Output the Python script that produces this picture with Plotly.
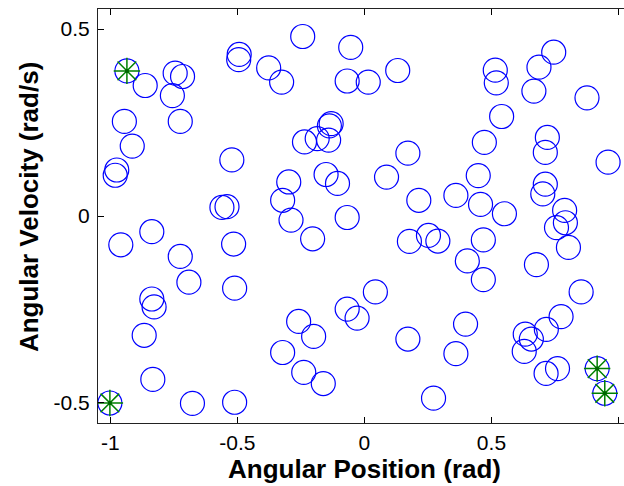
import plotly.graph_objects as go

# Blue circle states (angular position, angular velocity)
pos = [-0.935, -0.863, -0.745, -0.716, -0.756, -0.725, -0.945, -0.914, -0.975, -0.981,
       -0.493, -0.495, -0.377, -0.326, -0.522, -0.561, -0.541, -0.322, -0.298, -0.243,
       -0.054, -0.068, 0.015, 0.131, -0.131, -0.138, -0.236, -0.186, -0.141, 0.171,
       -0.151, -0.106, 0.087, 0.214, -0.289, -0.068, 0.360, 0.745, 0.687, 0.515,
       0.519, 0.667, 0.876, 0.540, 0.472, 0.720, 0.712, 0.959, 0.448, 0.712,
       0.702, 0.457, 0.551, 0.788, 0.791, 0.756, 0.289, 0.468, 0.405, 0.468,
       0.677, 0.803, 0.853, 0.774, 0.398, 0.716, 0.633, 0.657, 0.629, 0.360,
       0.760, 0.715, 0.916, 0.946, 0.272, -0.837, -0.959, -0.725, -0.515, -0.691,
       -0.511, -0.837, -0.828, -0.867, -0.833, -1.002, -0.677, -0.511, -0.322, -0.204,
       0.177, 0.252, 0.043, -0.068, -0.029, -0.259, -0.200, -0.239, -0.162, 0.171]
vel = [0.388, 0.349, 0.382, 0.373, 0.322, 0.253, 0.253, 0.187, 0.123, 0.109,
       0.432, 0.418, 0.396, 0.358, 0.150, 0.023, 0.025, 0.042, 0.091, 0.480,
       0.451, 0.361, 0.358, 0.389, 0.247, 0.241, 0.198, 0.207, 0.203, 0.168,
       0.111, 0.087, 0.104, 0.042, -0.011, -0.004, 0.055, 0.438, 0.398, 0.390,
       0.356, 0.334, 0.316, 0.266, 0.197, 0.210, 0.170, 0.144, 0.108, 0.085,
       0.059, 0.031, 0.006, 0.015, -0.018, -0.031, -0.067, -0.064, -0.120, -0.170,
       -0.130, -0.084, -0.203, -0.269, -0.289, -0.303, -0.316, -0.329, -0.362, -0.368,
       -0.408, -0.421, -0.408, -0.474, -0.487, -0.042, -0.077, -0.108, -0.075, -0.177,
       -0.193, -0.222, -0.243, -0.319, -0.437, -0.500, -0.501, -0.498, -0.365, -0.061,
       -0.068, -0.052, -0.203, -0.249, -0.273, -0.282, -0.322, -0.418, -0.448, -0.329]

# Highlighted (green asterisk) states
hl_pos = [-0.935, 0.916, 0.946, -1.002]
hl_vel = [0.388, -0.408, -0.474, -0.500]

x_ticks = [-1, -0.5, 0, 0.5, 1]
x_labels = ["-1", "-0.5", "0", "0.5", "1"]
y_ticks = [-0.5, 0, 0.5]
y_labels = ["-0.5", "0", "0.5"]
x_title = "Angular Position (rad)"
y_title = "Angular Velocity (rad/s)"

fig = go.Figure()
fig.add_trace(go.Scatter(
    x=pos, y=vel, mode="markers",
    marker=dict(symbol="circle-open", size=24, color="#0000FF", line=dict(width=1.2, color="#0000FF")),
    showlegend=False, hoverinfo="skip"))
fig.add_trace(go.Scatter(
    x=hl_pos, y=hl_vel, mode="markers",
    marker=dict(symbol="asterisk-open", size=22, color="#008000", line=dict(width=1.5, color="#008000")),
    showlegend=False, hoverinfo="skip"))
fig.add_trace(go.Scatter(
    x=hl_pos, y=hl_vel, mode="markers",
    marker=dict(symbol="circle", size=4, color="#006400"),
    showlegend=False, hoverinfo="skip"))

FONT = "Liberation Sans, Arial, sans-serif"
axis_font = dict(family=FONT, size=21, color="black")
title_font = dict(family=FONT, size=26, color="black")

fig.update_layout(
    width=624, height=486,
    margin=dict(l=98, r=0, t=9, b=63),
    paper_bgcolor="white", plot_bgcolor="white",
    xaxis=dict(
        range=[-1.0488, 1.0217], tickvals=x_ticks, ticktext=x_labels,
        ticks="inside", ticklen=6, tickcolor="black", showline=True, linecolor="#222222",
        linewidth=1, mirror="ticks", showgrid=False, zeroline=False,
        tickfont=axis_font, ticklabelstandoff=1),
    yaxis=dict(
        range=[-0.5535, 0.5535], tickvals=y_ticks, ticktext=y_labels,
        ticks="inside", ticklen=6, tickcolor="black", showline=True, linecolor="#222222",
        linewidth=1, mirror=False, showgrid=False, zeroline=False,
        tickfont=axis_font, ticklabelstandoff=3),
    annotations=[
        dict(text="<b>" + x_title + "</b>", xref="paper", yref="paper",
             x=0.5067, y=-0.112, xanchor="center", yanchor="middle",
             showarrow=False, font=title_font),
        dict(text="<b>" + y_title + "</b>", xref="paper", yref="paper",
             x=-0.131, y=0.5217, xanchor="center", yanchor="middle", textangle=-90,
             showarrow=False, font=title_font),
    ],
)

fig.write_html("out.html")
